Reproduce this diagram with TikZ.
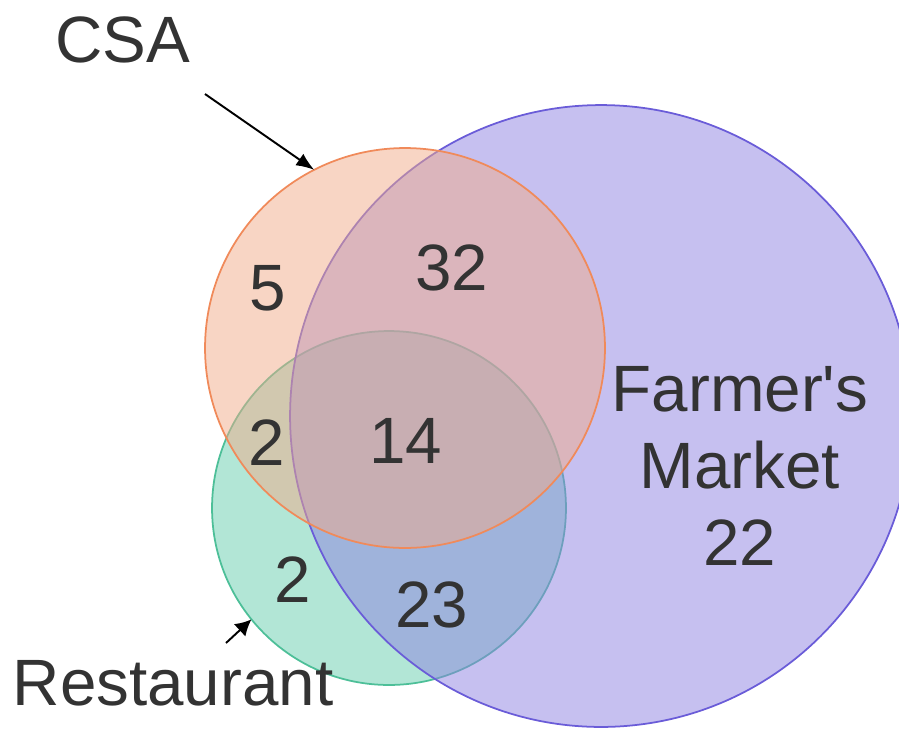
\documentclass[tikz,border=0pt]{standalone}
\usepackage{fontspec}
\setmainfont{Liberation Sans}
\usetikzlibrary{arrows.meta}
\definecolor{encre}{HTML}{333333}
\definecolor{csaFond}{RGB}{241,171,137}
\definecolor{csaTrait}{HTML}{F08A5A}
\definecolor{resFond}{RGB}{101,205,173}
\definecolor{resTrait}{HTML}{4DBF98}
\definecolor{marFond}{RGB}{141,129,225}
\definecolor{marTrait}{HTML}{6A5CD8}
\newcommand{\effectif}[1]{\textcolor{encre}{#1}}
\tikzset{
  ensemble/.style={circle, inner sep=0pt, outer sep=0pt, fill opacity=0.5, line width=1pt},
  etiquette/.style={font=\fontsize{37.3}{44}\selectfont, align=center, inner sep=0pt},
  fleche/.style={draw=black, line width=1.1pt, -{Latex[#1]}},
}
\begin{document}
\begin{tikzpicture}[x=0.02cm,y=-0.02cm]
\clip (0,0) rectangle (899,728);
% les trois ensembles
\node[ensemble, draw=resTrait, fill=resFond, minimum size=7.08cm] (res) at (389,508) {};
\node[ensemble, draw=marTrait, fill=marFond, minimum size=12.44cm] (mar) at (601,416) {};
\node[ensemble, draw=csaTrait, fill=csaFond, minimum size=8cm] (csa) at (405,348) {};
% effectifs
\node[etiquette] (n5) at (268,288) {\effectif{5}};
\node[etiquette] (n32) at (452,268) {\effectif{32}};
\node[etiquette] (n2a) at (267,443) {\effectif{2}};
\node[etiquette] (n14) at (406,441) {\effectif{14}};
\node[etiquette] (n2b) at (293,580) {\effectif{2}};
\node[etiquette] (n23) at (432,605) {\effectif{23}};
\node[etiquette] (nmar) at (740,466) {\effectif{Farmer\textquotesingle s}\\\effectif{Market}\\\effectif{22}};
% noms et fleches
\node[etiquette] (lcsa) at (123,40) {\effectif{CSA}};
\node[etiquette] (lres) at (173,683) {\effectif{Restaurant}};
\coordinate (qcsa) at (205,94);
\coordinate (qres) at (226,643);
\draw[fleche={length=0.36cm, width=0.28cm}] (qcsa) -- (csa.117);
\draw[fleche={length=0.32cm, width=0.34cm}] (qres) -- (res.219);
\end{tikzpicture}
\end{document}
